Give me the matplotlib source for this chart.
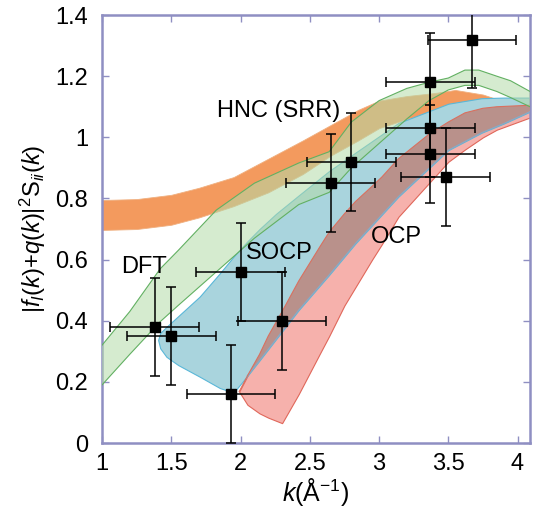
import matplotlib
matplotlib.use("Agg")
import matplotlib.pyplot as plt
import numpy as np

plt.rcParams["font.family"] = ["Liberation Sans", "DejaVu Sans"]
plt.rcParams["mathtext.fontset"] = "custom"
plt.rcParams["mathtext.rm"] = "Liberation Sans"
plt.rcParams["mathtext.it"] = "Liberation Sans:italic"

# experimental points
k_pts = [1.38, 1.50, 1.93, 2.00, 2.30, 2.65, 2.80, 3.37, 3.37, 3.37, 3.48, 3.67]
s_pts = [0.38, 0.35, 0.16, 0.56, 0.40, 0.85, 0.92, 1.18, 1.03, 0.945, 0.87, 1.32]
k_err = [0.32] * 12
s_err = [0.16] * 12

# HNC (SRR) band
hnc_k = [1.0, 1.25, 1.5, 1.7, 1.95, 2.2, 2.45, 2.65, 2.85, 3.0, 3.2, 3.4, 3.55, 3.75, 3.95, 4.09]
hnc_hi = [0.795, 0.798, 0.812, 0.835, 0.87, 0.93, 0.99, 1.04, 1.09, 1.12, 1.135, 1.145, 1.155, 1.14, 1.11, 1.095]
hnc_lo = [0.697, 0.700, 0.714, 0.738, 0.775, 0.82, 0.88, 0.94, 0.99, 1.03, 1.06, 1.08, 1.105, 1.10, 1.09, 1.083]

# DFT band
dft_k = [1.0, 1.2, 1.42, 1.55, 1.825, 2.1, 2.42, 2.64, 2.8, 3.0, 3.2, 3.36, 3.5, 3.62, 3.72, 3.85, 3.95, 4.09]
dft_hi = [0.32, 0.43, 0.57, 0.63, 0.762, 0.85, 0.916, 0.953, 1.05, 1.12, 1.16, 1.18, 1.194, 1.22, 1.22, 1.20, 1.185, 1.15]
dft_lo = [0.19, 0.29, 0.397, 0.45, 0.56, 0.67, 0.78, 0.82, 0.90, 0.98, 1.06, 1.12, 1.155, 1.17, 1.17, 1.15, 1.13, 1.10]

# SOCP band
socp_k = [1.405, 1.42, 1.465, 1.55, 1.705, 1.85, 1.95, 2.05, 2.137, 2.257, 2.42, 2.64, 2.83, 3.14, 3.5, 3.74, 3.9, 4.09]
socp_hi = [0.337, 0.36, 0.38, 0.415, 0.479, 0.555, 0.61, 0.66, 0.70, 0.75, 0.81, 0.89, 0.95, 1.047, 1.11, 1.128, 1.13, 1.13]
socp_lo = [0.337, 0.31, 0.282, 0.255, 0.217, 0.18, 0.165, 0.22, 0.27, 0.34, 0.435, 0.55, 0.653, 0.806, 0.958, 1.015, 1.045, 1.084]

# OCP band
ocp_k = [1.99, 2.05, 2.137, 2.2, 2.3, 2.42, 2.57, 2.64, 2.75, 2.83, 2.95, 3.02, 3.14, 3.36, 3.5, 3.62, 3.75, 3.85, 4.09]
ocp_hi = [0.168, 0.22, 0.29, 0.35, 0.43, 0.53, 0.64, 0.69, 0.75, 0.79, 0.84, 0.87, 0.93, 1.01, 1.05, 1.08, 1.095, 1.10, 1.105]
ocp_lo = [0.168, 0.125, 0.097, 0.083, 0.065, 0.16, 0.29, 0.35, 0.45, 0.51, 0.60, 0.65, 0.74, 0.85, 0.92, 0.96, 1.0, 1.025, 1.065]

frame = "#8f8fc2"

fig = plt.figure(figsize=(5.37, 5.19), dpi=100)
ax = fig.add_axes([0.19, 0.1464, 0.797, 0.8246])

# bands
ax.fill_between(hnc_k, hnc_lo, hnc_hi, facecolor="#f39a5e", edgecolor="#f0b080", lw=0.6, zorder=1)
ax.fill_between(ocp_k, ocp_lo, ocp_hi, facecolor="#f6b1ac", edgecolor="#e0675a", lw=0.8, zorder=1)
ax.fill_between(socp_k, socp_lo, socp_hi, facecolor="#a9d4dd", edgecolor="#5ab7d8", lw=0.8, zorder=2)

# overlap of SOCP and OCP
grid = np.linspace(min(ocp_k), max(ocp_k), 400)
ov_lo = np.maximum(np.interp(grid, socp_k, socp_lo), np.interp(grid, ocp_k, ocp_lo))
ov_hi = np.minimum(np.interp(grid, socp_k, socp_hi), np.interp(grid, ocp_k, ocp_hi))
ax.fill_between(grid, ov_lo, ov_hi, where=ov_hi > ov_lo, interpolate=True,
                facecolor="#b9918b", edgecolor="none", zorder=3)
ax.plot(socp_k[7:], socp_lo[7:], color="#8fa6c0", lw=0.9, zorder=3)
ax.plot(ocp_k, ocp_hi, color="#d9705f", lw=0.8, zorder=3)

ax.fill_between(dft_k, dft_lo, dft_hi, facecolor="#b3dba8", alpha=0.55, edgecolor="none", zorder=4)
ax.plot(dft_k, dft_hi, color="#62b062", lw=0.8, zorder=4)
ax.plot(dft_k, dft_lo, color="#62b062", lw=0.8, zorder=4)

# data points
ax.errorbar(k_pts, s_pts, xerr=k_err, yerr=s_err, fmt="s", color="black",
            ms=6.5, elinewidth=1.1, capsize=3.5, capthick=1.1, zorder=6)

# labels on curves
ax.text(1.83, 1.085, "HNC (SRR)", fontsize=17, va="center", ha="left", zorder=7)
ax.text(1.135, 0.577, "DFT", fontsize=17, va="center", ha="left", zorder=7)
ax.text(2.04, 0.62, "SOCP", fontsize=17, va="center", ha="left", zorder=7)
ax.text(2.94, 0.675, "OCP", fontsize=17, va="center", ha="left", zorder=7)

ax.set_xlim(1, 4.09)
ax.set_ylim(0, 1.4)
ax.set_xticks([1, 1.5, 2, 2.5, 3, 3.5, 4])
ax.set_xticklabels(["1", "1.5", "2", "2.5", "3", "3.5", "4"])
ax.set_yticks([0, 0.2, 0.4, 0.6, 0.8, 1.0, 1.2, 1.4])
ax.set_yticklabels(["0", "0.2", "0.4", "0.6", "0.8", "1", "1.2", "1.4"])
ax.tick_params(direction="in", length=5, width=1, color=frame, labelsize=17,
               top=True, right=True, pad=7)
ax.tick_params(axis="y", pad=10)
for sp in ax.spines.values():
    sp.set_color(frame)
    sp.set_linewidth(1.8)

ax.set_xlabel(r"$k$(Å$^{-1}$)", fontsize=18, labelpad=1)
ax.set_ylabel(r"$|f_I(k)$+$q(k)|^2$S$_{ii}(k)$", fontsize=17, labelpad=5)

fig.savefig("out.png", dpi=100, facecolor="white")
